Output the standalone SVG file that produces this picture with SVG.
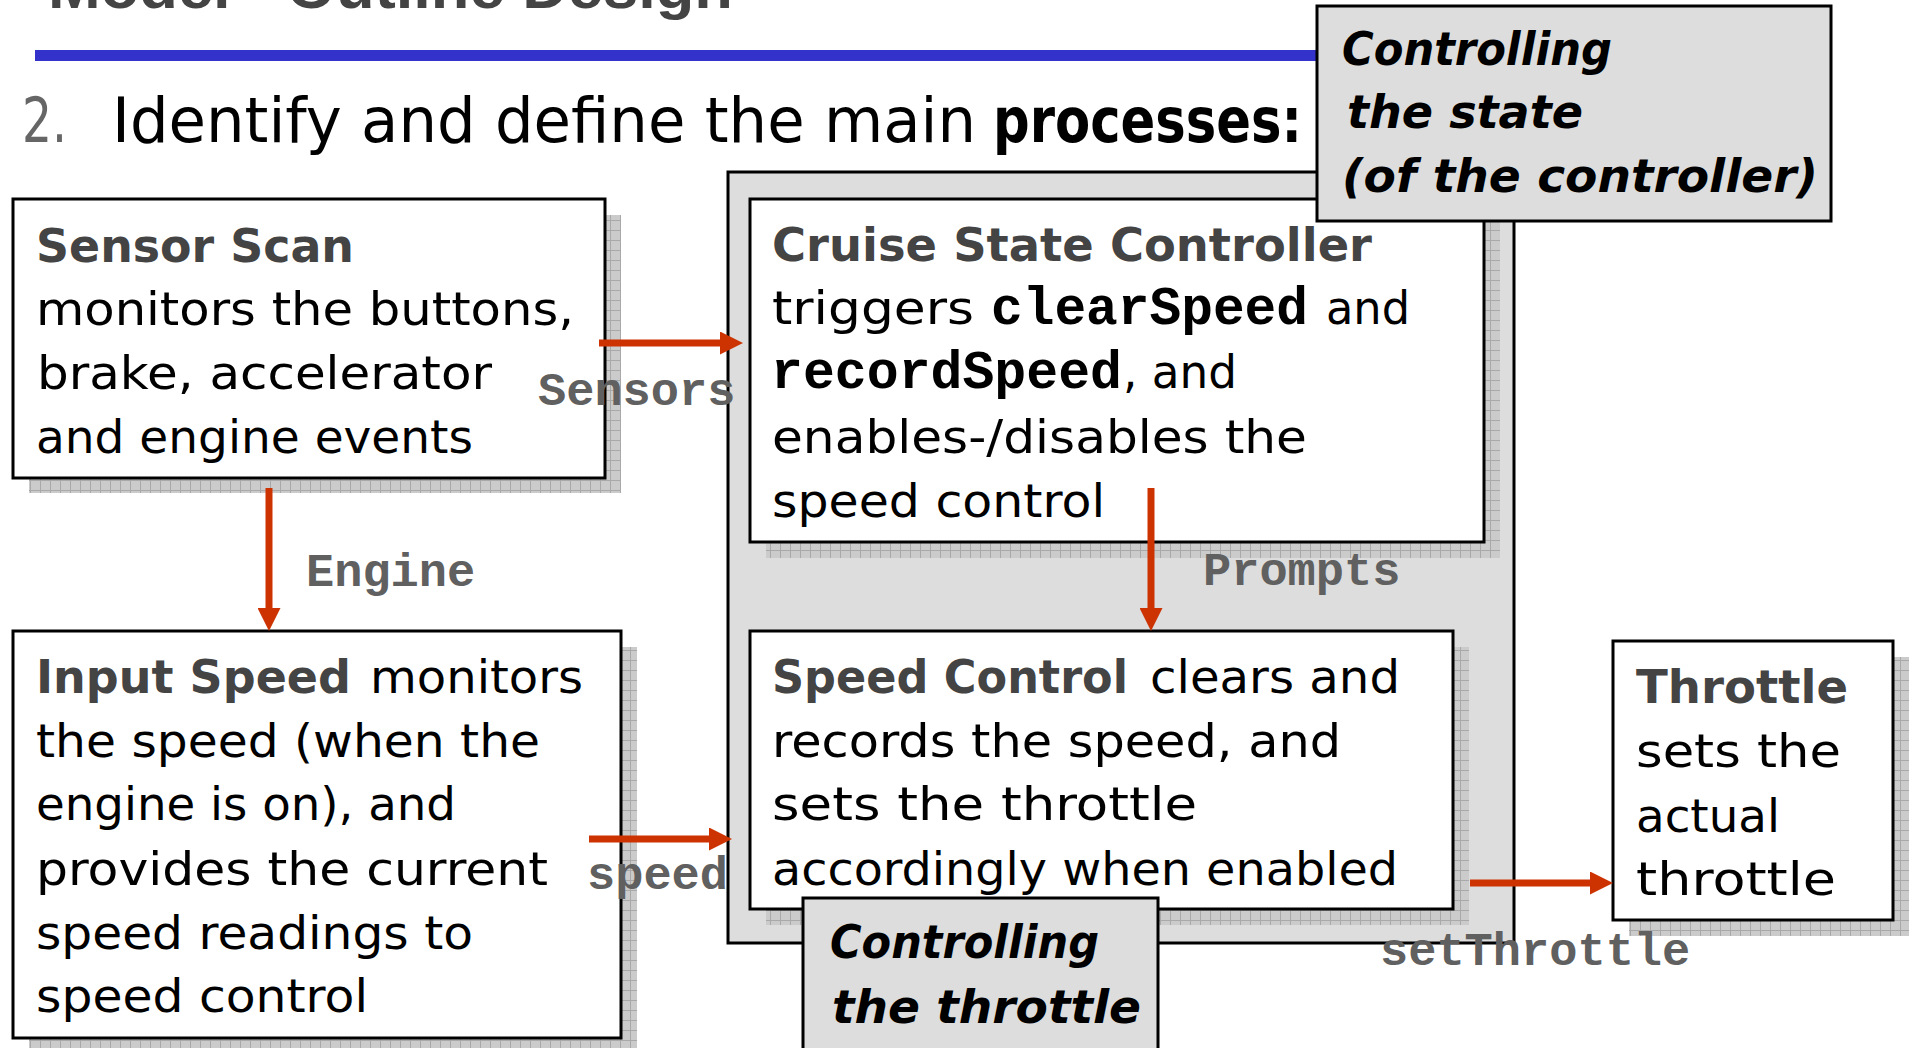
<svg xmlns="http://www.w3.org/2000/svg" width="1910" height="1048" viewBox="0 0 1910 1048">
  <defs>
    <style>
      .t { font-family: "DejaVu Sans", "Liberation Sans", sans-serif; font-size: 47px; fill: #000; }
      .hd { font-weight: bold; fill: #444; }
      .note { font-family: "DejaVu Sans", "Liberation Sans", sans-serif; font-size: 47px; font-weight: bold; font-style: italic; fill: #000; }
      .code { font-family: "Liberation Mono", "DejaVu Sans Mono", monospace; font-size: 53px; font-weight: bold; fill: #000; }
      .lbl { font-family: "Liberation Mono", "DejaVu Sans Mono", monospace; font-size: 47px; font-weight: bold; fill: #606060; }
      .box { fill: #fff; stroke: #000; stroke-width: 3; }
      .grey { fill: #ddd; stroke: #000; stroke-width: 3; }
      .shadow { fill: url(#grid); }
      .flow { stroke: #cc3300; stroke-width: 7; fill: none; marker-end: url(#head); }
    </style>
    <pattern id="grid" width="10" height="10" patternUnits="userSpaceOnUse">
      <rect width="10" height="10" fill="#cbcbcb"/>
      <path d="M0 0.5H10M0.5 0V10" stroke="#a9a9a9" stroke-width="1"/>
    </pattern>
    <marker id="head" viewBox="0 -11.5 23 23" refX="0" refY="0" markerWidth="23" markerHeight="23" markerUnits="userSpaceOnUse" orient="auto">
      <path d="M0,-11.5 L23,0 L0,11.5 Z" fill="#cc3300"/>
    </marker>
  </defs>

  <rect width="1910" height="1048" fill="#fff"/>

  <!-- slide title and rule -->
  <g id="title">
    <text x="48" y="8" font-family="'Liberation Sans', Arial, sans-serif" font-size="60" font-weight="bold" fill="#444" textLength="685" lengthAdjust="spacingAndGlyphs">Model - Outline Design</text>
    <rect x="35" y="50" width="1290" height="11" fill="#3333cc"/>
  </g>

  <g id="heading" font-family="'DejaVu Sans', 'Liberation Sans', sans-serif" font-size="63">
    <text x="22" y="142" fill="#666" textLength="45" lengthAdjust="spacingAndGlyphs">2.</text>
    <text x="112" y="142" fill="#000" textLength="864" lengthAdjust="spacingAndGlyphs">Identify and define the main</text>
    <text x="993" y="142" fill="#000" font-weight="bold" textLength="309" lengthAdjust="spacingAndGlyphs">processes:</text>
  </g>

  <!-- Sensor Scan -->
  <g id="sensor-scan">
    <rect class="shadow" x="29" y="215" width="592" height="278"/>
    <rect class="box" x="13" y="199" width="592" height="279"/>
    <text class="t hd" x="36" y="262" textLength="318" lengthAdjust="spacingAndGlyphs">Sensor Scan</text>
    <text class="t" x="36" y="325" textLength="538" lengthAdjust="spacingAndGlyphs">monitors the buttons,</text>
    <text class="t" x="37" y="389" textLength="455" lengthAdjust="spacingAndGlyphs">brake, accelerator</text>
    <text class="t" x="36" y="453" textLength="437" lengthAdjust="spacingAndGlyphs">and engine events</text>
  </g>

  <!-- Input Speed -->
  <g id="input-speed">
    <rect class="shadow" x="29" y="647" width="608" height="410"/>
    <rect class="box" x="13" y="631" width="608" height="407"/>
    <text class="t hd" x="36" y="693" textLength="315" lengthAdjust="spacingAndGlyphs">Input Speed</text>
    <text class="t" x="370" y="693" textLength="213" lengthAdjust="spacingAndGlyphs">monitors</text>
    <text class="t" x="36" y="757" textLength="504" lengthAdjust="spacingAndGlyphs">the speed (when the</text>
    <text class="t" x="36" y="820" textLength="420" lengthAdjust="spacingAndGlyphs">engine is on), and</text>
    <text class="t" x="36" y="885" textLength="512" lengthAdjust="spacingAndGlyphs">provides the current</text>
    <text class="t" x="36" y="949" textLength="437" lengthAdjust="spacingAndGlyphs">speed readings to</text>
    <text class="t" x="36" y="1012" textLength="332" lengthAdjust="spacingAndGlyphs">speed control</text>
  </g>

  <!-- controller container -->
  <g id="controller">
    <rect class="grey" x="728" y="172" width="786" height="771"/>
  </g>

  <!-- Cruise State Controller -->
  <g id="cruise-state-controller">
    <rect class="shadow" x="766" y="215" width="734" height="343"/>
    <rect class="box" x="750" y="199" width="734" height="343"/>
    <text class="t hd" x="772" y="261" textLength="600" lengthAdjust="spacingAndGlyphs">Cruise State Controller</text>
    <text class="t" x="772" y="324" textLength="202" lengthAdjust="spacingAndGlyphs">triggers</text>
    <text class="code" x="991" y="324" textLength="317" lengthAdjust="spacingAndGlyphs">clearSpeed</text>
    <text class="t" x="1326" y="324" textLength="84" lengthAdjust="spacingAndGlyphs">and</text>
    <text class="code" x="771" y="388" textLength="351" lengthAdjust="spacingAndGlyphs">recordSpeed</text>
    <text class="t" x="1123" y="388" textLength="114" lengthAdjust="spacingAndGlyphs">, and</text>
    <text class="t" x="772" y="453" textLength="535" lengthAdjust="spacingAndGlyphs">enables-/disables the</text>
    <text class="t" x="772" y="517" textLength="333" lengthAdjust="spacingAndGlyphs">speed control</text>
  </g>

  <!-- Speed Control -->
  <g id="speed-control">
    <rect class="shadow" x="766" y="647" width="703" height="278"/>
    <rect class="box" x="750" y="631" width="703" height="278"/>
    <text class="t hd" x="772" y="693" textLength="356" lengthAdjust="spacingAndGlyphs">Speed Control</text>
    <text class="t" x="1150" y="693" textLength="250" lengthAdjust="spacingAndGlyphs">clears and</text>
    <text class="t" x="772" y="757" textLength="569" lengthAdjust="spacingAndGlyphs">records the speed, and</text>
    <text class="t" x="772" y="820" textLength="425" lengthAdjust="spacingAndGlyphs">sets the throttle</text>
    <text class="t" x="772" y="885" textLength="626" lengthAdjust="spacingAndGlyphs">accordingly when enabled</text>
  </g>

  <!-- Throttle -->
  <g id="throttle">
    <rect class="shadow" x="1629" y="657" width="280" height="279"/>
    <rect class="box" x="1613" y="641" width="280" height="279"/>
    <text class="t hd" x="1636" y="703" textLength="212" lengthAdjust="spacingAndGlyphs">Throttle</text>
    <text class="t" x="1636" y="767" textLength="205" lengthAdjust="spacingAndGlyphs">sets the</text>
    <text class="t" x="1636" y="832" textLength="144" lengthAdjust="spacingAndGlyphs">actual</text>
    <text class="t" x="1636" y="895" textLength="200" lengthAdjust="spacingAndGlyphs">throttle</text>
  </g>

  <!-- connectors -->
  <g id="connectors">
    <line class="flow" x1="599" y1="343" x2="720" y2="343"/>
    <line class="flow" x1="269" y1="488" x2="269" y2="608"/>
    <line class="flow" x1="1151" y1="488" x2="1151" y2="608"/>
    <line class="flow" x1="589" y1="839" x2="709" y2="839"/>
    <line class="flow" x1="1470" y1="883" x2="1590" y2="883"/>
    <text class="lbl" x="538" y="405">Sensors</text>
    <text class="lbl" x="306" y="586">Engine</text>
    <text class="lbl" x="1203" y="585">Prompts</text>
    <text class="lbl" x="587" y="889">speed</text>
    <text class="lbl" x="1380" y="965">setThrottle</text>
  </g>

  <!-- annotations -->
  <g id="note-state">
    <rect class="grey" x="1317" y="6" width="514" height="215"/>
    <text class="note" x="1342" y="65" textLength="270" lengthAdjust="spacingAndGlyphs">Controlling</text>
    <text class="note" x="1347" y="128" textLength="236" lengthAdjust="spacingAndGlyphs">the state</text>
    <text class="note" x="1342" y="192" textLength="476" lengthAdjust="spacingAndGlyphs">(of the controller)</text>
  </g>

  <g id="note-throttle">
    <rect class="grey" x="803" y="898" width="355" height="160"/>
    <text class="note" x="830" y="958" textLength="269" lengthAdjust="spacingAndGlyphs">Controlling</text>
    <text class="note" x="832" y="1023" textLength="309" lengthAdjust="spacingAndGlyphs">the throttle</text>
  </g>
</svg>
